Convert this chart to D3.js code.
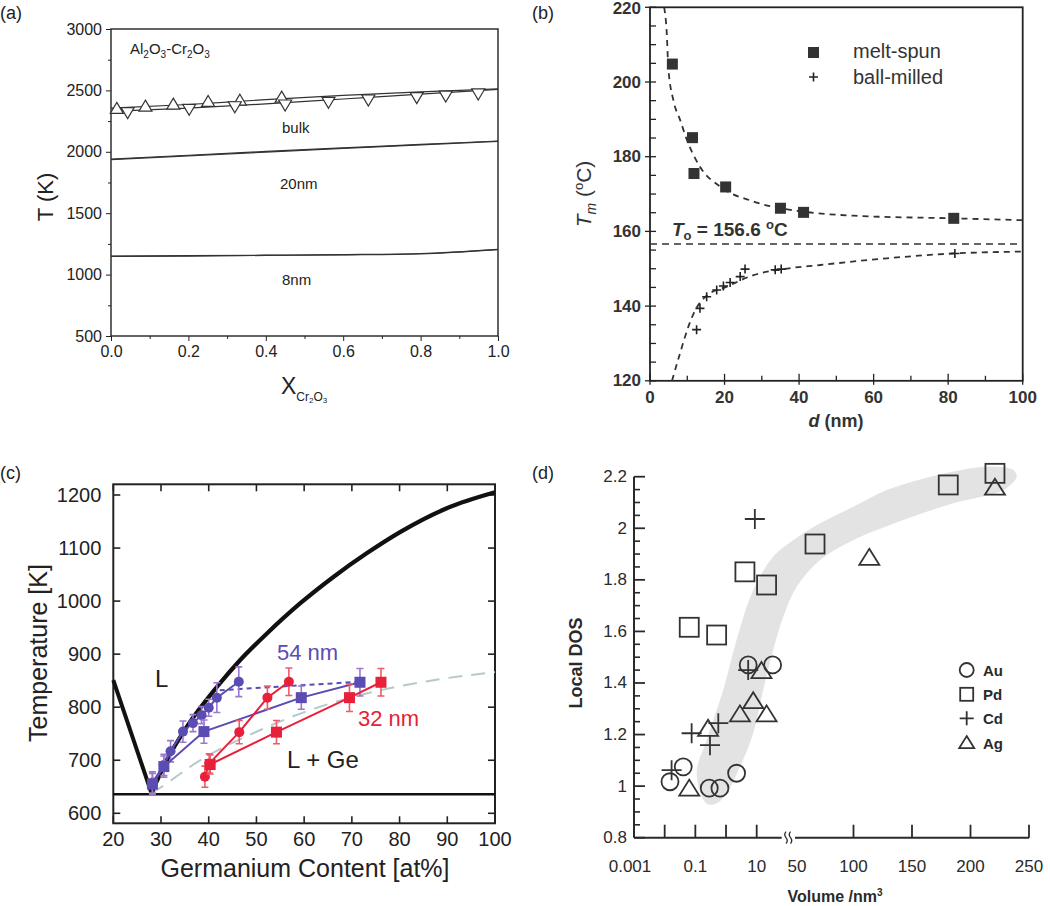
<!DOCTYPE html>
<html><head><meta charset="utf-8">
<script src="https://cdn.jsdelivr.net/npm/d3@7"></script>
<style>
body{margin:0;background:#fff}
svg{display:block}
text{font-family:"Liberation Sans",Arial,Helvetica,sans-serif}
</style>
</head><body>
<svg id="fig" width="1050" height="906"></svg>
<script>
// ================= DATA =================
// Panel (a): Al2O3-Cr2O3 phase diagram
const aX = [0, 0.2, 0.4, 0.6, 0.8, 1.0];
const aBulkLiq = [2355, 2385, 2425, 2460, 2488, 2512];
const aBulkSol = [2330, 2355, 2390, 2430, 2470, 2508];
const a20nmLiq = [1940, 1972, 2003, 2032, 2060, 2088];
const a20nmSol = [1936, 1967, 1998, 2028, 2057, 2085];
const a8nmLiq = [1151, 1154, 1158, 1163, 1172, 1206];
const a8nmSol = [1148, 1151, 1156, 1161, 1169, 1203];
const aUpX = [0.015, 0.089, 0.161, 0.251, 0.333, 0.441];
const aUpT = [2354, 2372, 2388, 2410, 2420, 2445];
const aDownX = [0.043, 0.202, 0.320, 0.450, 0.562, 0.665, 0.790, 0.865, 0.949];
const aDownT = [2319, 2346, 2367, 2381, 2403, 2422, 2441, 2454, 2471];
const aYTicks = [500, 1000, 1500, 2000, 2500, 3000];
const aYMinor = [750, 1250, 1750, 2250, 2750];
const aXTicks = [0, 0.2, 0.4, 0.6, 0.8, 1.0];
const aXMinor = [0.1, 0.3, 0.5, 0.7, 0.9];

// Panel (b): Tm vs d
const bMeltD = [6, 11.4, 11.8, 20.3, 35, 41.2, 81.5];
const bMeltT = [204.8, 185.1, 175.5, 171.9, 166.2, 165.1, 163.5];
const bBallD = [12.5, 13.4, 15.2, 17.9, 19.7, 21.5, 24.2, 25.5, 33.6, 35.2, 81.8];
const bBallT = [133.7, 139.4, 142.5, 144.3, 145.4, 146.3, 147.9, 149.9, 149.7, 149.9, 154.1];
const bFitUpD = [3.8, 4.5, 4.9, 6.3, 8.1, 9.9, 13.4, 18.8, 27.8, 41, 54.7, 81.5, 100];
const bFitUpT = [220, 213, 204, 195, 189.8, 184.5, 177.3, 172, 168, 165.3, 164.2, 163.5, 163];
const bFitLowD = [5.9, 8.1, 10.3, 11.7, 15.2, 20.6, 27.8, 35, 45.7, 63.6, 81.7, 100];
const bFitLowT = [120, 127.5, 134.5, 138, 142.8, 145.2, 148.3, 149.8, 151, 152.8, 154.1, 154.6];
const bT0 = 156.6;
const bYTicks = [120, 140, 160, 180, 200, 220];
const bYMinor = [125, 130, 135, 145, 150, 155, 165, 170, 175, 185, 190, 195, 205, 210, 215];
const bXTicks = [0, 20, 40, 60, 80, 100];
const bXMinor = [10, 30, 50, 70, 90];

// Panel (c): Au-Ge phase diagram with nanowire data
const cLiqLeftGe = [20, 28];
const cLiqLeftT = [851, 638];
const cLiqRightGe = [28, 31.2, 35.4, 41.7, 46.6, 52.2, 59.2, 66.2, 73.1, 80.1, 89.9, 100];
const cLiqRightT = [638, 700, 763, 838, 889, 939, 996, 1046, 1090, 1130, 1175, 1205];
const cEutecticGe = [20, 100];
const cEutecticT = [636, 636];
const cMetaGe = [28, 29.1, 38.2, 50.8, 59.2, 73.1, 87.1, 100];
const cMetaT = [638, 644, 700, 757, 788, 826, 851, 866];
const c54CircGe = [28.2, 30.6, 32.0, 34.6, 36.7, 38.5, 40.0, 41.7, 46.3];
const c54CircT = [658, 691, 717, 754, 770, 785, 799, 818, 848];
const c54CircErr = [20, 20, 20, 20, 16, 16, 16, 28, 28];
const c54SqGe = [28.2, 30.6, 39.0, 59.4, 71.7];
const c54SqT = [655, 688, 754, 818, 847];
const c54SqErr = [20, 20, 22, 22, 26];
const c54DashGe = [42.3, 71.7];
const c54DashT = [832, 848];
const c32CircGe = [39.2, 40.1, 46.4, 52.3, 56.8];
const c32CircT = [669, 694, 753, 818, 848];
const c32CircErr = [20, 18, 22, 22, 26];
const c32SqGe = [40.3, 54.2, 69.5, 76.1];
const c32SqT = [692, 753, 818, 847];
const c32SqErr = [18, 22, 26, 26];
const cXTicks = [20, 30, 40, 50, 60, 70, 80, 90, 100];
const cYTicks = [600, 700, 800, 900, 1000, 1100, 1200];

// Panel (d): Local DOS vs volume
const dAuV = [0.0149, 0.0403, 0.284, 0.633, 2.21, 5.28, 33];
const dAuDOS = [1.017, 1.075, 0.992, 0.992, 1.05, 1.47, 1.47];
const dPdV = [0.0633, 0.494, 4.13, 21, 67.1, 181, 220.9];
const dPdDOS = [1.616, 1.586, 1.831, 1.78, 1.939, 2.168, 2.213];
const dCdV = [0.0168, 0.0757, 0.30, 0.56, 5.28, 8.7];
const dCdDOS = [1.062, 1.205, 1.159, 1.244, 1.45, 2.036];
const dAgV = [0.0633, 0.26, 2.84, 7.7, 14.3, 21, 113.5, 220.9];
const dAgDOS = [0.988, 1.22, 1.276, 1.327, 1.444, 1.276, 1.883, 2.155];
const dBandV = [0.233, 0.110, 0.233, 0.81, 2.21, 7.7, 34.4, 49.1, 71.4, 99.8, 128.4, 171.1, 213.8, 236.6, 239.5,
                228.1, 185.3, 142.6, 99.8, 71.4, 51.45, 44.1, 34.4, 16.3, 7.7, 2.84, 1.05, 0.494];
const dBandDOS = [0.933, 1.05, 1.179, 1.373, 1.567, 1.760, 1.890, 1.954, 2.019, 2.083, 2.148, 2.206, 2.239, 2.226, 2.2,
                  2.148, 2.097, 2.032, 1.954, 1.877, 1.773, 1.657, 1.528, 1.373, 1.205, 1.075, 0.972, 0.933];
const dYTicks = [0.8, 1, 1.2, 1.4, 1.6, 1.8, 2, 2.2];
const dXLogTicks = [0.001, 0.1, 10];
const dXLogMarks = [0.01, 0.1, 1, 10];
const dXLinTicks = [50, 100, 150, 200, 250];
const dXLinMarks = [100, 150, 200, 250];
const dLegend = ["Au", "Pd", "Cd", "Ag"];

// ================= DRAWING =================
const svg = d3.select("#fig");
const INK = "#222";
function zip(xs, ys) { return xs.map((x, i) => [x, ys[i]]); }
function label(g, x, y, s, size, opts = {}) {
  const t = g.append("text").attr("x", x).attr("y", y).attr("font-size", size).attr("fill", INK).text(s);
  Object.entries(opts).forEach(([k, v]) => t.attr(k, v));
  return t;
}
function styleAxis(sel, size, weight) {
  sel.select(".domain").remove();
  sel.selectAll("line").attr("stroke", INK);
  sel.selectAll("text").attr("font-size", size).attr("font-weight", weight || "normal").attr("fill", INK)
     .attr("font-family", '"Liberation Sans", Arial, sans-serif');
}

// ---------- Panel (a) ----------
(function () {
  const g = svg.append("g");
  const x = d3.scaleLinear([0, 1], [111, 498]);
  const y = d3.scaleLinear([500, 3000], [336, 29]);
  label(g, 0, 19, "(a)", 18);
  const ax1 = g.append("g").attr("transform", `translate(${x(0)},0)`)
    .call(d3.axisLeft(y).tickValues(aYTicks).tickSize(5).tickPadding(4).tickFormat(d3.format("d")));
  styleAxis(ax1, 16);
  const ax2 = g.append("g").attr("transform", `translate(${x(0)},0)`)
    .call(d3.axisLeft(y).tickValues(aYMinor).tickSize(3).tickFormat(""));
  styleAxis(ax2, 16);
  const bx1 = g.append("g").attr("transform", `translate(0,${y(500)})`)
    .call(d3.axisBottom(x).tickValues(aXTicks).tickSize(5).tickPadding(5).tickFormat(d3.format(".1f")));
  styleAxis(bx1, 16);
  const bx2 = g.append("g").attr("transform", `translate(0,${y(500)})`)
    .call(d3.axisBottom(x).tickValues(aXMinor).tickSize(3).tickFormat(""));
  styleAxis(bx2, 16);
  g.append("rect").attr("x", x(0)).attr("y", y(3000)).attr("width", x(1) - x(0)).attr("height", y(500) - y(3000))
    .attr("fill", "none").attr("stroke", INK).attr("stroke-width", 1.4);

  const ln = d3.line().x(d => x(d[0])).y(d => y(d[1])).curve(d3.curveMonotoneX);
  [aBulkLiq, aBulkSol, a20nmLiq, a20nmSol, a8nmLiq, a8nmSol].forEach(s => {
    g.append("path").attr("d", ln(zip(aX, s))).attr("fill", "none").attr("stroke", "#333").attr("stroke-width", 1.2);
  });
  const up = "M0,-6 L6.5,5 L-6.5,5 Z", down = "M0,6 L6.5,-5 L-6.5,-5 Z";
  zip(aUpX, aUpT).forEach(d => g.append("path").attr("d", up).attr("transform", `translate(${x(d[0])},${y(d[1])})`)
    .attr("fill", "#fff").attr("stroke", "#333").attr("stroke-width", 1.2));
  zip(aDownX, aDownT).forEach(d => g.append("path").attr("d", down).attr("transform", `translate(${x(d[0])},${y(d[1])})`)
    .attr("fill", "#fff").attr("stroke", "#333").attr("stroke-width", 1.2));

  const t = g.append("text").attr("x", 130).attr("y", 54).attr("font-size", 15).attr("fill", INK);
  t.append("tspan").text("Al");
  t.append("tspan").attr("font-size", 10).attr("dy", 4).text("2");
  t.append("tspan").attr("dy", -4).text("O");
  t.append("tspan").attr("font-size", 10).attr("dy", 4).text("3");
  t.append("tspan").attr("dy", -4).text("-Cr");
  t.append("tspan").attr("font-size", 10).attr("dy", 4).text("2");
  t.append("tspan").attr("dy", -4).text("O");
  t.append("tspan").attr("font-size", 10).attr("dy", 4).text("3");

  label(g, 282, 133, "bulk", 15);
  label(g, 280, 189, "20nm", 15);
  label(g, 282, 285, "8nm", 15);

  g.append("text").attr("transform", "translate(53,197) rotate(-90)").attr("text-anchor", "middle")
    .attr("font-size", 22).attr("fill", INK).text("T (K)");
  const xl = g.append("text").attr("x", 281).attr("y", 394).attr("font-size", 23).attr("fill", INK);
  xl.append("tspan").text("X");
  xl.append("tspan").attr("font-size", 12).attr("dy", 7).text("Cr");
  xl.append("tspan").attr("font-size", 8).attr("dy", 2).text("2");
  xl.append("tspan").attr("font-size", 12).attr("dy", -2).text("O");
  xl.append("tspan").attr("font-size", 8).attr("dy", 2).text("3");
})();

// ---------- Panel (b) ----------
(function () {
  const g = svg.append("g");
  const x = d3.scaleLinear([0, 100], [650, 1022.7]);
  const y = d3.scaleLinear([120, 220], [380.8, 7.3]);
  label(g, 532, 19, "(b)", 18);
  const L = x(0), R = x(100), T = y(220), B = y(120);
  bYMinor.forEach(v => g.append("line").attr("x1", L).attr("x2", L + 6).attr("y1", y(v)).attr("y2", y(v)).attr("stroke", INK).attr("stroke-width", 1.3));
  bYTicks.forEach(v => g.append("line").attr("x1", L - 5).attr("x2", L + 6).attr("y1", y(v)).attr("y2", y(v)).attr("stroke", INK).attr("stroke-width", 1.3));
  bXMinor.forEach(v => g.append("line").attr("x1", x(v)).attr("x2", x(v)).attr("y1", B).attr("y2", B - 5).attr("stroke", INK).attr("stroke-width", 1.3));
  bXTicks.forEach(v => g.append("line").attr("x1", x(v)).attr("x2", x(v)).attr("y1", B + 4).attr("y2", B - 7).attr("stroke", INK).attr("stroke-width", 1.3));
  bYTicks.forEach(v => label(g, L - 9, Math.max(y(v), 8.5), v, 17, { "text-anchor": "end", "dominant-baseline": "central", "font-weight": "bold", fill: "#333" }));
  bXTicks.forEach(v => label(g, x(v), 403, v, 17, { "text-anchor": "middle", "font-weight": "bold", fill: "#333" }));
  g.append("rect").attr("x", L).attr("y", T).attr("width", R - L).attr("height", B - T)
    .attr("fill", "none").attr("stroke", INK).attr("stroke-width", 1.8);

  const clip = g.append("clipPath").attr("id", "clipb");
  clip.append("rect").attr("x", L).attr("y", T).attr("width", R - L).attr("height", B - T);
  const pg = g.append("g").attr("clip-path", "url(#clipb)");
  const ln = d3.line().x(d => x(d[0])).y(d => y(d[1])).curve(d3.curveMonotoneX);
  pg.append("path").attr("d", ln(zip(bFitUpD, bFitUpT))).attr("fill", "none").attr("stroke", "#333")
    .attr("stroke-width", 1.8).attr("stroke-dasharray", "6,5");
  pg.append("path").attr("d", ln(zip(bFitLowD, bFitLowT))).attr("fill", "none").attr("stroke", "#333")
    .attr("stroke-width", 1.8).attr("stroke-dasharray", "6,5");
  pg.append("line").attr("x1", L).attr("x2", R).attr("y1", y(bT0)).attr("y2", y(bT0))
    .attr("stroke", "#333").attr("stroke-width", 1.5).attr("stroke-dasharray", "7,5");
  zip(bMeltD, bMeltT).forEach(d => pg.append("rect").attr("x", x(d[0]) - 5.5).attr("y", y(d[1]) - 5.5)
    .attr("width", 11).attr("height", 11).attr("fill", "#333"));
  zip(bBallD, bBallT).forEach(d => pg.append("path")
    .attr("d", `M${x(d[0]) - 4.5},${y(d[1])}h9M${x(d[0])},${y(d[1]) - 4.5}v9`).attr("stroke", "#222").attr("stroke-width", 1.6));

  g.append("rect").attr("x", 808).attr("y", 47).attr("width", 11).attr("height", 11).attr("fill", "#333");
  label(g, 853, 58, "melt-spun", 20, { fill: "#333" });
  g.append("path").attr("d", "M809,77h9M813.5,72.5v9").attr("stroke", "#222").attr("stroke-width", 1.6);
  label(g, 853, 84, "ball-milled", 20, { fill: "#333" });

  const t0 = g.append("text").attr("x", 672).attr("y", 236).attr("font-size", 19).attr("font-weight", "bold").attr("fill", "#333");
  t0.append("tspan").attr("font-style", "italic").text("T");
  t0.append("tspan").attr("font-size", 13).attr("dy", 4).text("o");
  t0.append("tspan").attr("dy", -4).text(" = 156.6 ");
  t0.append("tspan").attr("font-size", 13).attr("dy", -7).text("o");
  t0.append("tspan").attr("dy", 7).text("C");

  const yl = g.append("text").attr("transform", "translate(591,194) rotate(-90)").attr("text-anchor", "middle")
    .attr("font-size", 21).attr("fill", "#333");
  yl.append("tspan").attr("font-style", "italic").text("T");
  yl.append("tspan").attr("font-style", "italic").attr("font-size", 14).attr("dy", 5).text("m");
  yl.append("tspan").attr("dy", -5).text(" (");
  yl.append("tspan").attr("font-size", 13).attr("dy", -8).text("o");
  yl.append("tspan").attr("dy", 8).text("C)");

  const xl = g.append("text").attr("x", 836).attr("y", 427).attr("text-anchor", "middle")
    .attr("font-size", 18).attr("font-weight", "bold").attr("fill", "#333");
  xl.append("tspan").attr("font-style", "italic").text("d");
  xl.append("tspan").text(" (nm)");
})();

// ---------- Panel (c) ----------
(function () {
  const g = svg.append("g");
  const x = d3.scaleLinear([20, 100], [113.3, 495]);
  const y = d3.scaleLinear([600, 1200], [813.3, 495]);
  const L = x(20), R = x(100), T = 484.3, B = 823.3;
  label(g, 0, 479, "(c)", 18);
  cXTicks.forEach(v => {
    g.append("line").attr("x1", x(v)).attr("x2", x(v)).attr("y1", B).attr("y2", B - 7).attr("stroke", INK).attr("stroke-width", 1.6);
    g.append("line").attr("x1", x(v)).attr("x2", x(v)).attr("y1", T).attr("y2", T + 7).attr("stroke", INK).attr("stroke-width", 1.6);
    label(g, x(v), 846, v, 20, { "text-anchor": "middle" });
  });
  cYTicks.forEach(v => {
    g.append("line").attr("x1", L).attr("x2", L + 7).attr("y1", y(v)).attr("y2", y(v)).attr("stroke", INK).attr("stroke-width", 1.6);
    g.append("line").attr("x1", R).attr("x2", R - 7).attr("y1", y(v)).attr("y2", y(v)).attr("stroke", INK).attr("stroke-width", 1.6);
    label(g, L - 12, y(v), v, 20, { "text-anchor": "end", "dominant-baseline": "central" });
  });
  g.append("rect").attr("x", L).attr("y", T).attr("width", R - L).attr("height", B - T)
    .attr("fill", "none").attr("stroke", INK).attr("stroke-width", 2);

  const lnS = d3.line().x(d => x(d[0])).y(d => y(d[1]));
  const lnC = d3.line().x(d => x(d[0])).y(d => y(d[1])).curve(d3.curveMonotoneX);
  g.append("path").attr("d", lnC(zip(cMetaGe, cMetaT))).attr("fill", "none").attr("stroke", "#b7c8cc")
    .attr("stroke-width", 2).attr("stroke-dasharray", "14,9");
  g.append("path").attr("d", lnS(zip(cEutecticGe, cEutecticT))).attr("fill", "none").attr("stroke", "#111").attr("stroke-width", 2.6);
  g.append("path").attr("d", lnS(zip(cLiqLeftGe, cLiqLeftT))).attr("fill", "none").attr("stroke", "#111").attr("stroke-width", 4);
  g.append("path").attr("d", lnC(zip(cLiqRightGe, cLiqRightT))).attr("fill", "none").attr("stroke", "#111").attr("stroke-width", 4.2);

  const PUR = "#5a4cb2", PURE = "#9a78cc", RED = "#e8203a", REDE = "#ef5a6a";
  function series(ge, t, err, col, ecol, shape, dash) {
    g.append("path").attr("d", lnS(zip(ge, t))).attr("fill", "none").attr("stroke", col).attr("stroke-width", 2)
      .attr("stroke-dasharray", dash || null);
    if (err) ge.forEach((v, i) => {
      const xx = x(v), y1 = y(t[i] - err[i]), y2 = y(t[i] + err[i]);
      g.append("path").attr("d", `M${xx},${y1}V${y2}M${xx - 3.5},${y1}h7M${xx - 3.5},${y2}h7`)
        .attr("stroke", ecol).attr("stroke-width", 1.6).attr("fill", "none");
    });
    if (shape === "circ") ge.forEach((v, i) => g.append("circle").attr("cx", x(v)).attr("cy", y(t[i])).attr("r", 5).attr("fill", col));
    if (shape === "sq") ge.forEach((v, i) => g.append("rect").attr("x", x(v) - 5.5).attr("y", y(t[i]) - 5.5).attr("width", 11).attr("height", 11).attr("fill", col));
  }
  series(c54DashGe, c54DashT, null, PUR, PURE, null, "5,4");
  series(c54CircGe, c54CircT, c54CircErr, PUR, PURE, "circ");
  series(c54SqGe, c54SqT, c54SqErr, PUR, PURE, "sq");
  series(c32CircGe, c32CircT, c32CircErr, RED, REDE, "circ");
  series(c32SqGe, c32SqT, c32SqErr, RED, REDE, "sq");

  label(g, 277, 660, "54 nm", 22, { fill: PUR });
  label(g, 358, 726, "32 nm", 22, { fill: RED });
  label(g, 155, 687, "L", 24);
  label(g, 287, 768, "L + Ge", 24);

  g.append("text").attr("transform", "translate(47,653) rotate(-90)").attr("text-anchor", "middle")
    .attr("font-size", 25).attr("fill", INK).text("Temperature [K]");
  label(g, 305, 877, "Germanium Content [at%]", 25, { "text-anchor": "middle" });
})();

// ---------- Panel (d) ----------
(function () {
  const g = svg.append("g");
  const y = d3.scaleLinear([0.8, 2.2], [837.7, 476.7]);
  const xLog = d3.scaleLog([0.001, 10], [634, 756.7]);
  const xLin = d3.scaleLinear([50, 250], [795, 1029]);
  const X = v => v <= 40 ? xLog(v) : (v >= 50 ? xLin(v) : xLog(40) + (v - 40) / 10 * (xLin(50) - xLog(40)));
  const Y0 = y(0.8), L = xLog(0.001);
  label(g, 532, 479, "(d)", 18);

  const band = d3.line().x(d => X(d[0])).y(d => y(d[1])).curve(d3.curveCatmullRomClosed.alpha(0.5));
  g.append("path").attr("d", band(zip(dBandV, dBandDOS))).attr("fill", "#e3e3e3").attr("stroke", "none");

  const ST = "#2a2a2a";
  g.append("line").attr("x1", L).attr("x2", L).attr("y1", Y0).attr("y2", y(2.2)).attr("stroke", ST).attr("stroke-width", 2);
  g.append("line").attr("x1", L).attr("x2", 781.7).attr("y1", Y0).attr("y2", Y0).attr("stroke", ST).attr("stroke-width", 2);
  g.append("line").attr("x1", xLin(50)).attr("x2", xLin(250)).attr("y1", Y0).attr("y2", Y0).attr("stroke", ST).attr("stroke-width", 2);
  g.append("path").attr("d", `M786,${Y0 - 6} q-2.5,3 0,6 q2.5,3 0,6 M790.5,${Y0 - 6} q-2.5,3 0,6 q2.5,3 0,6`)
    .attr("fill", "none").attr("stroke", ST).attr("stroke-width", 1.3);
  const minor = d3.range(0.85, 2.2, 0.05).filter(v => Math.abs(v * 5 - Math.round(v * 5)) > 0.01);
  minor.forEach(v => g.append("line").attr("x1", L).attr("x2", L + 6).attr("y1", y(v)).attr("y2", y(v)).attr("stroke", ST).attr("stroke-width", 1.6));
  dYTicks.forEach(v => {
    g.append("line").attr("x1", L).attr("x2", L + 11).attr("y1", y(v)).attr("y2", y(v)).attr("stroke", ST).attr("stroke-width", 1.8);
    label(g, 627, y(v), d3.format("~g")(v), 17, { "text-anchor": "end", "dominant-baseline": "central", fill: ST });
  });
  dXLogMarks.forEach(v => g.append("line").attr("x1", xLog(v)).attr("x2", xLog(v)).attr("y1", Y0).attr("y2", Y0 - 13).attr("stroke", ST).attr("stroke-width", 1.8));
  dXLinMarks.forEach(v => g.append("line").attr("x1", xLin(v)).attr("x2", xLin(v)).attr("y1", Y0).attr("y2", Y0 - 13).attr("stroke", ST).attr("stroke-width", 1.8));
  dXLogTicks.forEach(v => label(g, xLog(v) - (v === 0.001 ? 4 : 0), 872, d3.format("~g")(v), 17, { "text-anchor": "middle", fill: ST }));
  dXLinTicks.forEach(v => label(g, xLin(v) + (v === 50 ? 2 : 0), 872, v, 17, { "text-anchor": "middle", fill: ST }));

  const MS = "#333";
  function circ(cx, cy, r) { g.append("circle").attr("cx", cx).attr("cy", cy).attr("r", r).attr("fill", "none").attr("stroke", MS).attr("stroke-width", 1.8); }
  function sq(cx, cy, s) { g.append("rect").attr("x", cx - s / 2).attr("y", cy - s / 2).attr("width", s).attr("height", s).attr("fill", "none").attr("stroke", MS).attr("stroke-width", 1.8); }
  function cross(cx, cy, s) { g.append("path").attr("d", `M${cx - s / 2},${cy}h${s}M${cx},${cy - s / 2}v${s}`).attr("stroke", MS).attr("stroke-width", 1.8); }
  function tri(cx, cy, w, h) { g.append("path").attr("d", `M${cx},${cy - h * 0.6}L${cx + w / 2},${cy + h * 0.4}L${cx - w / 2},${cy + h * 0.4}Z`).attr("fill", "none").attr("stroke", MS).attr("stroke-width", 1.8); }
  dPdV.forEach((v, i) => sq(X(v), y(dPdDOS[i]), 19));
  dAuV.forEach((v, i) => circ(X(v), y(dAuDOS[i]), 8.5));
  dAgV.forEach((v, i) => tri(X(v), y(dAgDOS[i]), 20, 16));
  dCdV.forEach((v, i) => cross(X(v), y(dCdDOS[i]), 20));

  const ly = [670, 694.3, 718.3, 743.3];
  circ(966.7, ly[0], 7);
  sq(966.7, ly[1], 13);
  cross(966.7, ly[2], 14);
  tri(966.7, ly[3], 15, 12);
  dLegend.forEach((s, i) => label(g, 983, ly[i], s, 15, { "font-weight": "bold", "dominant-baseline": "central", fill: ST }));

  g.append("text").attr("transform", "translate(582,663) rotate(-90)").attr("text-anchor", "middle")
    .attr("font-size", 18).attr("font-weight", "bold").attr("fill", ST).text("Local DOS");
  const xl = g.append("text").attr("x", 835).attr("y", 902).attr("text-anchor", "middle")
    .attr("font-size", 16).attr("font-weight", "bold").attr("fill", ST);
  xl.append("tspan").text("Volume /nm");
  xl.append("tspan").attr("font-size", 10).attr("dy", -6).text("3");
})();
</script>
</body></html>
